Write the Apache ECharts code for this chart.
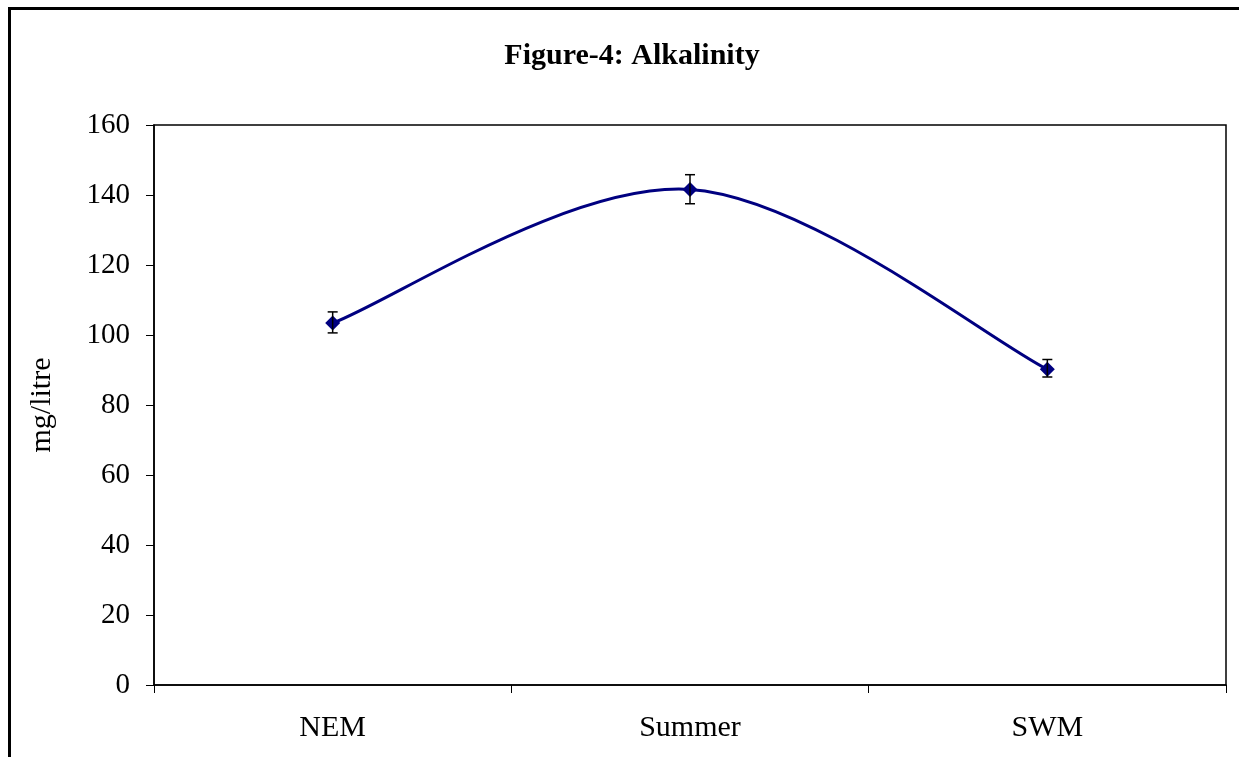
<!DOCTYPE html>
<html>
<head>
<meta charset="utf-8">
<style>html,body{margin:0;padding:0;background:#fff;}#c{width:1239px;height:757px;}</style>
<script src="https://cdn.jsdelivr.net/npm/echarts@6/dist/echarts.min.js"></script>
</head>
<body>
<div id="c"></div>
<script>
var categories = ['NEM', 'Summer', 'SWM'];
var values = [103.4, 141.6, 90.2];
var errLow = [100.6, 137.5, 88.0];
var errHigh = [106.6, 145.8, 93.0];
var yTicks = {min: 0, max: 160, interval: 20};

var chart = echarts.init(document.getElementById('c'));
var serif = '"Liberation Serif", "DejaVu Serif", serif';
var errData = categories.map(function (c, i) { return [i, errLow[i], errHigh[i]]; });

// Excel-like smoothed curve (Catmull-Rom style bezier) through the points, positioned by the axes
function renderCurve(params, api) {
  var pts = values.map(function (v, i) { return api.coord([i, v]); });
  var n = pts.length;
  function p(i) { return pts[Math.max(0, Math.min(n - 1, i))]; }
  var d = 'M' + pts[0][0] + ' ' + pts[0][1];
  for (var i = 0; i < n - 1; i++) {
    var p0 = p(i - 1), p1 = p(i), p2 = p(i + 1), p3 = p(i + 2);
    var c1x = p1[0] + (p2[0] - p0[0]) / 6, c1y = p1[1] + (p2[1] - p0[1]) / 6;
    var c2x = p2[0] - (p3[0] - p1[0]) / 6, c2y = p2[1] - (p3[1] - p1[1]) / 6;
    d += ' C' + c1x + ' ' + c1y + ' ' + c2x + ' ' + c2y + ' ' + p2[0] + ' ' + p2[1];
  }
  return {type: 'path', shape: {pathData: d}, style: {fill: null, stroke: '#000080', lineWidth: 3}};
}

chart.setOption({
  animation: false,
  backgroundColor: '#fff',
  title: {
    text: 'Figure-4: Alkalinity',
    left: 627,
    textAlign: 'center',
    top: 36,
    textStyle: {fontFamily: serif, fontSize: 30, fontWeight: 'bold', color: '#000'}
  },
  graphic: [
    {type: 'polyline', shape: {points: [[9.5, 800], [9.5, 8.5], [1300, 8.5]]},
     style: {stroke: '#000', lineWidth: 3, fill: null}}
  ],
  grid: {left: 154, right: 13, top: 125, bottom: 72, show: true, borderColor: '#000', borderWidth: 1.5, backgroundColor: 'transparent'},
  xAxis: {
    type: 'category',
    data: categories,
    boundaryGap: true,
    axisLine: {lineStyle: {color: '#000', width: 1.5}},
    axisTick: {show: true, inside: false, length: 8, lineStyle: {color: '#000', width: 1}},
    axisLabel: {fontFamily: serif, fontSize: 30, color: '#000', margin: 28}
  },
  yAxis: {
    type: 'value',
    min: yTicks.min, max: yTicks.max, interval: yTicks.interval,
    name: 'mg/litre',
    nameLocation: 'middle',
    nameGap: 97,
    nameTextStyle: {fontFamily: serif, fontSize: 30, color: '#000'},
    axisLine: {show: true, lineStyle: {color: '#000', width: 1.5}},
    axisTick: {show: true, inside: false, length: 8, lineStyle: {color: '#000', width: 1}},
    splitLine: {show: false},
    axisLabel: {fontFamily: serif, fontSize: 29, color: '#000', margin: 24}
  },
  series: [
    {
      type: 'custom',
      data: [0],
      z: 2,
      renderItem: renderCurve
    },
    {
      type: 'line',
      data: values,
      symbol: 'diamond',
      symbolSize: 15,
      itemStyle: {color: '#000080'},
      lineStyle: {opacity: 0},
      z: 3
    },
    {
      type: 'custom',
      data: errData,
      z: 4,
      renderItem: function (params, api) {
        var x = api.value(0);
        var lo = api.coord([x, api.value(1)]);
        var hi = api.coord([x, api.value(2)]);
        var w = 5;
        var st = {stroke: '#000', lineWidth: 1.5};
        return {
          type: 'group',
          children: [
            {type: 'line', shape: {x1: lo[0], y1: lo[1], x2: hi[0], y2: hi[1]}, style: st},
            {type: 'line', shape: {x1: lo[0] - w, y1: lo[1], x2: lo[0] + w, y2: lo[1]}, style: st},
            {type: 'line', shape: {x1: hi[0] - w, y1: hi[1], x2: hi[0] + w, y2: hi[1]}, style: st}
          ]
        };
      }
    }
  ]
});
</script>
</body>
</html>
